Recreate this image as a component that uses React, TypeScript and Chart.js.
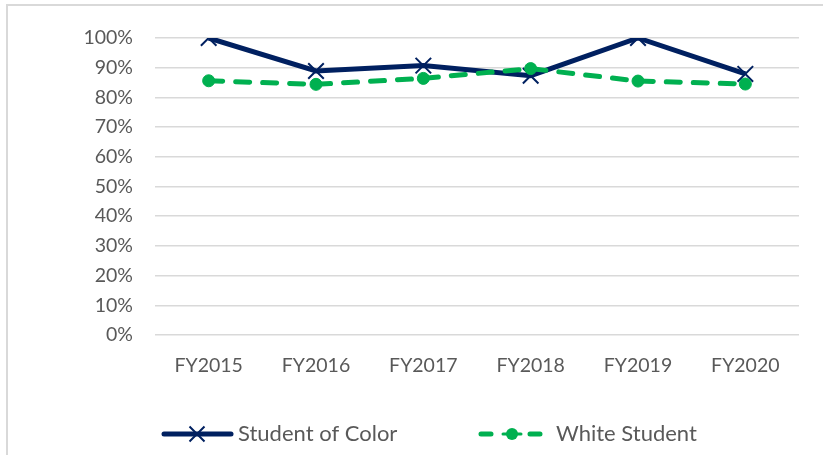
import React, { useEffect, useRef } from "react";
import { Chart, registerables } from "chart.js";

Chart.register(...registerables);

const categories = ["FY2015", "FY2016", "FY2017", "FY2018", "FY2019", "FY2020"];
const studentOfColor = [100, 88.9, 90.7, 87.3, 100, 87.9];
const whiteStudent = [85.6, 84.4, 86.4, 89.7, 85.5, 84.5];
const yTicks = [0, 10, 20, 30, 40, 50, 60, 70, 80, 90, 100];
const seriesNames = ["Student of Color", "White Student"];

const NAVY = "#002060";
const GREEN = "#00B050";
const TEXT = "#595959";
const GRID = "#D9D9D9";
const FONT = "Lato, 'Open Sans', sans-serif";

const framePlugin = {
  id: "frame",
  beforeDraw(chart: any) {
    const ctx = chart.ctx;
    ctx.save();
    ctx.fillStyle = "#ffffff";
    ctx.fillRect(0, 0, chart.width, chart.height);
    ctx.strokeStyle = GRID;
    ctx.lineWidth = 2;
    ctx.strokeRect(7, 5, chart.width + 20, chart.height + 20);
    ctx.restore();
  },
};

const legendPlugin = {
  id: "customLegend",
  afterDraw(chart: any) {
    const ctx = chart.ctx;
    const y = 434;
    ctx.save();
    ctx.font = `22px ${FONT}`;
    ctx.textBaseline = "middle";
    // item 1: solid navy line with X marker
    ctx.strokeStyle = NAVY;
    ctx.lineWidth = 5;
    ctx.lineCap = "round";
    ctx.beginPath();
    ctx.moveTo(164, y);
    ctx.lineTo(231, y);
    ctx.stroke();
    const cx1 = 197;
    ctx.lineWidth = 2;
    ctx.lineCap = "butt";
    ctx.beginPath();
    ctx.moveTo(cx1 - 7.5, y - 7.5);
    ctx.lineTo(cx1 + 7.5, y + 7.5);
    ctx.moveTo(cx1 - 7.5, y + 7.5);
    ctx.lineTo(cx1 + 7.5, y - 7.5);
    ctx.stroke();
    ctx.fillStyle = TEXT;
    ctx.fillText(seriesNames[0], 238, y);
    // item 2: dashed green line with circle marker
    ctx.strokeStyle = GREEN;
    ctx.lineWidth = 5;
    ctx.lineCap = "round";
    ctx.beginPath();
    ctx.moveTo(481, y);
    ctx.lineTo(491, y);
    ctx.moveTo(530, y);
    ctx.lineTo(540, y);
    ctx.stroke();
    ctx.fillStyle = GREEN;
    ctx.beginPath();
    ctx.arc(512, y, 6, 0, Math.PI * 2);
    ctx.fill();
    ctx.lineWidth = 3;
    ctx.beginPath();
    ctx.moveTo(503, y);
    ctx.lineTo(521, y);
    ctx.stroke();
    ctx.fillStyle = TEXT;
    ctx.fillText(seriesNames[1], 556, y);
    ctx.restore();
  },
};

export default function App() {
  const ref = useRef<HTMLCanvasElement | null>(null);

  useEffect(() => {
    document.body.style.margin = "0";
    const canvas = ref.current;
    if (!canvas) return;
    const chart = new Chart(canvas, {
      type: "line",
      data: {
        labels: categories,
        datasets: [
          {
            label: seriesNames[0],
            data: studentOfColor,
            borderColor: NAVY,
            backgroundColor: NAVY,
            borderWidth: 5,
            pointStyle: "crossRot",
            pointRadius: 11,
            pointBorderWidth: 2,
            pointBorderColor: NAVY,
            tension: 0,
            order: 2,
          },
          {
            label: seriesNames[1],
            data: whiteStudent,
            borderColor: GREEN,
            backgroundColor: GREEN,
            borderWidth: 5,
            borderDash: [14, 13],
            borderCapStyle: "round",
            pointStyle: "circle",
            pointRadius: 6,
            pointBorderWidth: 1,
            pointBackgroundColor: GREEN,
            pointBorderColor: GREEN,
            tension: 0,
            order: 1,
          },
        ],
      },
      options: {
        responsive: false,
        animation: false,
        layout: { padding: { left: 0, right: 24, top: 38, bottom: 2 } },
        plugins: {
          legend: { display: false },
          tooltip: { enabled: false },
        },
        scales: {
          x: {
            offset: true,
            grid: { display: false, drawTicks: false },
            border: { display: false },
            ticks: {
              color: TEXT,
              font: { family: FONT, size: 19.5 },
              padding: 19,
              maxRotation: 0,
            },
            afterFit: (scale: any) => {
              scale.height = 118;
            },
          },
          y: {
            min: 0,
            max: 100,
            afterBuildTicks: (scale: any) => {
              scale.ticks = yTicks.map((v) => ({ value: v }));
            },
            grid: { color: GRID, lineWidth: 1.5, drawTicks: false },
            border: { display: false },
            ticks: {
              color: TEXT,
              font: { family: FONT, size: 19.5 },
              padding: 22,
              callback: (v: any) => `${v}%`,
            },
            afterFit: (scale: any) => {
              scale.width = 155;
            },
          },
        },
      },
      plugins: [framePlugin, legendPlugin],
    });
    return () => chart.destroy();
  }, []);

  return <canvas ref={ref} width={823} height={455} style={{ display: "block" }} />;
}
